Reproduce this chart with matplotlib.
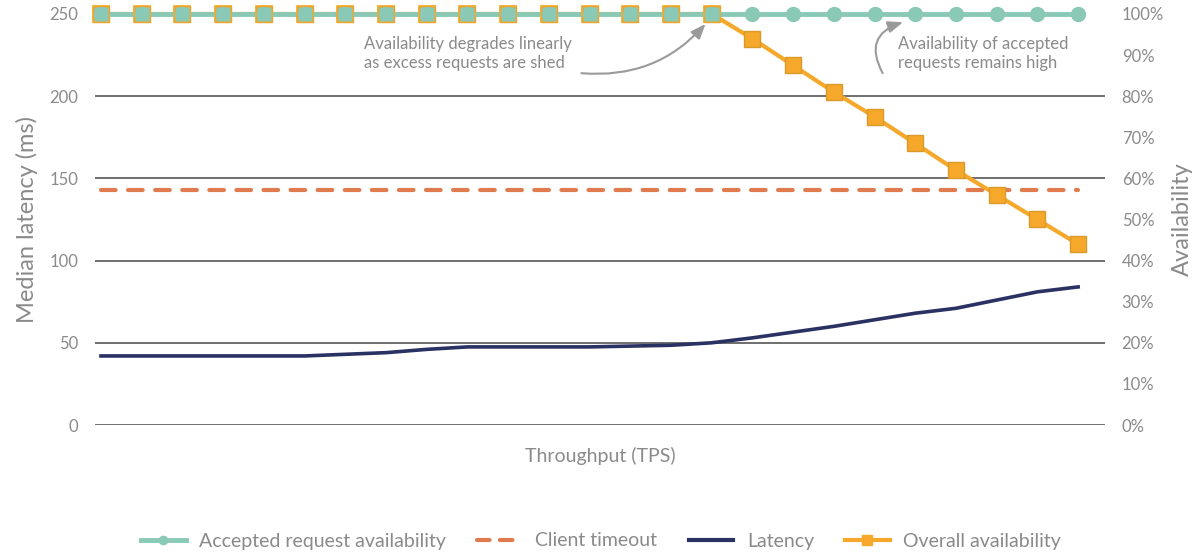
import numpy as np
import matplotlib.pyplot as plt
from matplotlib.lines import Line2D

plt.rcParams['font.family'] = ['Lato', 'DejaVu Sans']

# 25 load steps, no tick labels on the throughput axis
steps = np.arange(25)
latency_ms = [42, 42, 42, 42, 42, 42, 43, 44, 46, 47.5, 47.5, 47.5, 47.5, 48, 48.5,
              50, 53, 56.5, 60, 64, 68, 71, 76, 81, 84]
client_timeout_ms = 143
accepted_avail = [100] * 25
overall_avail = [100] * 16 + [94, 87.5, 81, 75, 68.5, 62, 56, 50, 44]

green = '#8ac9b5'
orange = '#f5a82a'
timeout_col = '#e07b4f'
navy = '#2a3163'
grey_txt = '#8a8a8a'
arrow_col = '#9a9a9a'

fig = plt.figure(figsize=(11.98, 5.53), dpi=100)
ax = fig.add_axes([95 / 1198, 1 - 425 / 553, 1010 / 1198, 411 / 553])
ax2 = ax.twinx()

ax.set_xlim(-0.147, 24.66)
ax.set_ylim(0, 250)
ax2.set_ylim(0, 100)

for v in [0, 50, 100, 150, 200]:
    ax.axhline(v, color='#555555', lw=1.2, zorder=0)

ax.plot(steps, [client_timeout_ms] * 25, color=timeout_col, lw=3, ls=(0, (3.5, 3)),
        dash_capstyle='round', zorder=2)
ax.plot(steps, latency_ms, color=navy, lw=2.6, zorder=3)

ax2.plot(steps, overall_avail, color=orange, lw=3, marker='s', ms=11,
         mfc=orange, mec='#d99a2a', mew=1, zorder=3, clip_on=False)
ax2.plot(steps, accepted_avail, color=green, lw=3.5, marker='o', ms=10,
         mfc=green, mec=green, zorder=4, clip_on=False)
# square markers stay visible behind the accepted line for the first steps
ax2.plot(steps[:16], overall_avail[:16], ls='none', marker='s', ms=12,
         mfc='none', mec=orange, mew=1.2, zorder=4.5, clip_on=False)
ax2.plot(steps[:16], overall_avail[:16], ls='none', marker='s', ms=10,
         mfc=green, mec='none', zorder=4.6, clip_on=False)

for a in (ax, ax2):
    for s in a.spines.values():
        s.set_visible(False)
    a.tick_params(length=0, labelsize=12, colors=grey_txt)
ax.set_xticks([])
ax.set_yticks([0, 50, 100, 150, 200, 250])
ax.tick_params(axis='y', pad=12)
ax2.set_yticks(np.arange(0, 101, 10))
ax2.set_yticklabels([f'{v}%' for v in range(0, 101, 10)])
ax2.tick_params(axis='y', pad=12)

ax.set_ylabel('Median latency (ms)', fontsize=17, color=grey_txt, labelpad=8)
ax2.set_ylabel('Availability', fontsize=17, color=grey_txt, labelpad=6)
ax.set_xlabel('Throughput (TPS)', fontsize=14, color=grey_txt, labelpad=16)

arrow_kw = dict(arrowstyle='-|>,head_length=0.9,head_width=0.35',
                color=arrow_col, lw=1.5, shrinkA=0, shrinkB=0)

ax.text(6.45, 226, 'Availability degrades linearly\nas excess requests are shed',
        fontsize=12, color=grey_txt, ha='left', va='center', linespacing=1.25)
ax.annotate('', xy=(14.85, 244), xytext=(11.8, 214),
            arrowprops=dict(connectionstyle='arc3,rad=0.25', **arrow_kw))

ax.text(19.58, 226, 'Availability of accepted\nrequests remains high', fontsize=12,
        color=grey_txt, ha='left', va='center', linespacing=1.25)
ax.annotate('', xy=(19.7, 245), xytext=(19.2, 214),
            arrowprops=dict(connectionstyle='arc3,rad=-0.6', **arrow_kw))

handles = [
    Line2D([], [], color=green, lw=3.5, marker='o', ms=6, mfc=green),
    Line2D([], [], color=timeout_col, lw=3, ls=(0, (3, 2.5)), dash_capstyle='round'),
    Line2D([], [], color=navy, lw=3),
    Line2D([], [], color=orange, lw=3, marker='s', ms=7, mfc=orange),
]
labels = ['Accepted request availability', 'Client timeout', 'Latency', 'Overall availability']
leg = fig.legend(handles, labels, loc='center', bbox_to_anchor=(601 / 1198, 1 - 541 / 553),
                 ncol=4, frameon=False, fontsize=14, handlelength=2.3, columnspacing=1.6,
                 handletextpad=0.7)
for t in leg.get_texts():
    t.set_color(grey_txt)

fig.savefig('out.png', dpi=100)
